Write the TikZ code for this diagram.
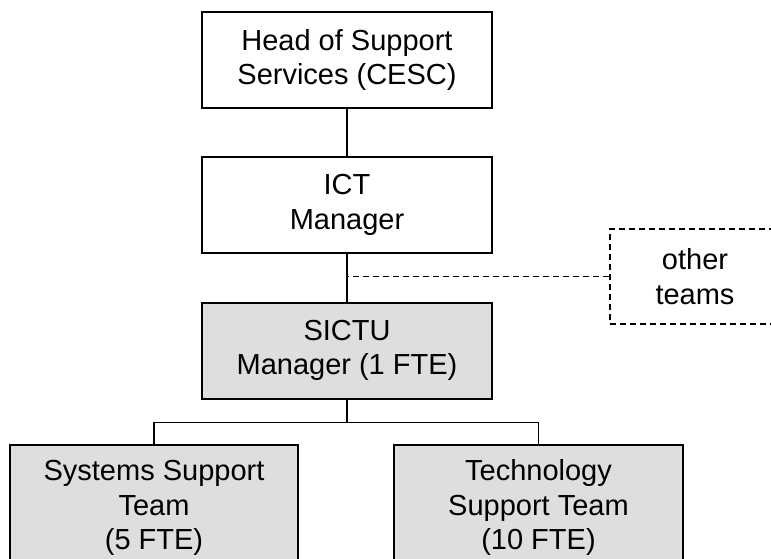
\documentclass[tikz,border=0pt]{standalone}
\usepackage{fontspec}
\setmainfont{Liberation Sans}
\usepackage{tikz}
\usetikzlibrary{positioning}

\begin{document}
\begin{tikzpicture}[x=1pt,y=1pt,auto,node distance=47pt,line width=1.8pt,
  font=\fontsize{29pt}{34.5pt}\selectfont]
\tikzstyle{every node}=[align=center,inner sep=0pt]
\tikzstyle{post}=[shape=rectangle,draw=black,minimum width=290pt,minimum height=96pt]
\tikzstyle{unit}=[post,fill=unitgrey]
\colorlet{unitgrey}{black!13}
\useasboundingbox (0,0) rectangle (771,-559);
\node[post] (A) at (347,-60) {Head of Support\\Services (CESC)};
\node[post] (B) [below=47pt of A] {ICT\\Manager};
\node[unit] (C) [below=48pt of B] {SICTU\\Manager (1 FTE)};
\node[unit,minimum width=288pt,minimum height=126pt,anchor=north] (D) at (154,-444) {Systems Support\\Team\\(5 FTE)};
\node[unit,minimum width=289pt,minimum height=126pt,anchor=north] (E) at (538.5,-444) {Technology\\Support Team\\(10 FTE)};
\node[draw=black,dash pattern=on 6pt off 4pt,minimum width=170pt,minimum height=95pt] (F) at (695,-276.5) {other\\teams};
\coordinate[below=23pt of C.south] (G);
\path (A) edge (B)
	(B) edge (C);
\draw (C) -- (G) -| (D);
\draw (G) -| (E);
\draw[dash pattern=on 6pt off 4pt] (F.west) -- (F.west -| B.south);
\end{tikzpicture}
\end{document}
